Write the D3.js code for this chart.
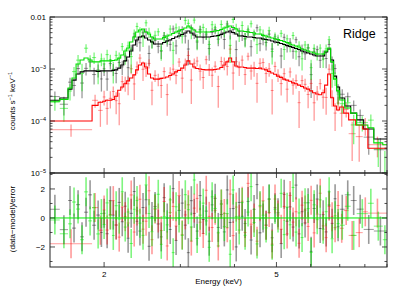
<!DOCTYPE html>
<html>
<head>
<meta charset="utf-8">
<title>Ridge spectrum</title>
<script src="https://cdn.jsdelivr.net/npm/d3@7"></script>
<style>
  body { margin: 0; background: #fff; }
  text { font-family: "Liberation Sans", Arial, sans-serif; fill: #000; }
</style>
</head>
<body>
<svg id="chart" width="399" height="299"></svg>
<script>
// rates are in units of 1e-4 counts s^-1 keV^-1, errors in % of the model
const UNIT = 1e-4;

// bin centres (keV) shared by the three data groups between 2 and 7 keV
const energies = [2.00, 2.03, 2.07, 2.10, 2.13, 2.17, 2.20, 2.24, 2.27, 2.31,
  2.35, 2.38, 2.42, 2.46, 2.50, 2.54, 2.58, 2.62, 2.67, 2.71,
  2.75, 2.80, 2.84, 2.89, 2.93, 2.98, 3.03, 3.08, 3.13, 3.18,
  3.23, 3.28, 3.33, 3.39, 3.44, 3.50, 3.55, 3.61, 3.67, 3.73,
  3.79, 3.85, 3.91, 3.97, 4.04, 4.10, 4.17, 4.23, 4.30, 4.37,
  4.44, 4.51, 4.58, 4.66, 4.73, 4.81, 4.89, 4.96, 5.04, 5.13,
  5.21, 5.29, 5.38, 5.46, 5.55, 5.64, 5.73, 5.82, 5.92, 6.01,
  6.11, 6.21, 6.31, 6.41, 6.51, 6.62, 6.72, 6.83, 6.94];

const blackModel = [9.2, 9.2, 9.2, 9.4, 9.6, 10.4, 11.9, 14.3, 17.0, 22.2,
  28.9, 36.1, 41.2, 43.1, 39.5, 36.1, 33.0, 30.3, 30.3, 30.3,
  32.3, 34.6, 36.1, 38.6, 41.2, 43.1, 46.1, 49.2, 53.8, 49.2,
  45.1, 41.2, 41.2, 41.2, 41.2, 41.2, 42.2, 43.1, 44.1, 46.1,
  49.2, 51.5, 53.8, 50.3, 47.1, 43.1, 43.1, 42.2, 41.2, 41.2,
  40.3, 39.5, 39.5, 37.8, 36.9, 36.1, 34.6, 33.0, 32.3, 30.9,
  29.6, 28.3, 27.1, 25.9, 24.8, 23.7, 22.2, 21.2, 20.3, 19.4,
  18.6, 17.8, 17.8, 17.8, 21.2, 24.2, 14.9, 7.3, 4.5];
const blackRate = [10.1, 6.4, 12.7, 9.9, 8.2, 13.3, 11.0, 17.2, 10.6, 23.9,
  42.6, 34.3, 31.9, 49.6, 51.4, 19.9, 33.8, 35.6, 27.3, 22.0,
  43.6, 34.6, 29.8, 58.9, 27.8, 48.5, 56.5, 43.1, 24.2, 61.5,
  48.5, 33.0, 57.7, 40.2, 45.3, 24.7, 50.6, 57.1, 37.5, 48.4,
  36.9, 73.4, 49.8, 57.8, 23.6, 52.8, 44.2, 38.0, 52.5, 26.8,
  45.3, 62.2, 30.6, 37.8, 32.3, 46.9, 24.2, 38.8, 34.7, 17.8,
  40.7, 26.9, 32.5, 22.0, 36.6, 17.2, 24.4, 19.6, 25.4, 7.8,
  21.4, 23.6, 14.7, 18.7, 15.9, 29.6, 13.4, 10.2, 3.6];
const blackErrPct = [30, 28, 32, 27, 30, 26, 29, 25, 27, 24, 26,
  22, 25, 21, 24, 23, 26, 22, 24, 21, 25,
  23, 22, 26, 21, 24, 22, 25, 23, 21, 24,
  22, 26, 23, 21, 25, 22, 24, 23, 21, 26,
  22, 24, 23, 25, 21, 22, 26, 24, 23, 21,
  25, 22, 24, 26, 23, 22, 25, 21, 24, 23,
  22, 26, 24, 21, 25, 23, 22, 24, 26, 23,
  25, 24, 22, 26, 25, 27, 30, 33];

const greenModel = [14.3, 14.3, 14.3, 14.6, 14.9, 16.3, 18.6, 22.2, 25.3, 33.0,
  41.2, 51.5, 56.2, 58.8, 51.5, 47.1, 41.2, 37.8, 37.8, 37.8,
  40.3, 43.1, 45.1, 48.1, 51.5, 53.8, 57.5, 61.4, 67.1, 61.4,
  56.2, 51.5, 51.5, 51.5, 51.5, 51.5, 52.6, 53.8, 55.0, 57.5,
  61.4, 64.2, 67.1, 62.8, 58.8, 53.8, 53.8, 52.6, 51.5, 50.3,
  49.2, 47.1, 47.1, 44.1, 43.1, 41.2, 39.5, 37.8, 36.9, 35.3,
  33.8, 32.3, 30.3, 28.9, 27.7, 26.5, 24.2, 23.2, 22.2, 21.2,
  20.3, 19.4, 19.4, 19.4, 22.2, 25.3, 13.7, 6.4, 3.8];
const greenRate = [12.5, 18.9, 15.0, 9.5, 18.3, 15.9, 27.0, 18.3, 27.8, 17.3,
  47.4, 65.7, 52.0, 41.2, 77.3, 50.6, 33.0, 44.4, 52.0, 22.7,
  41.3, 38.8, 58.6, 22.8, 61.8, 53.8, 43.1, 86.0, 75.5, 52.2,
  87.1, 34.8, 54.1, 63.1, 48.9, 29.6, 71.0, 61.9, 42.6, 71.9,
  53.7, 69.0, 28.5, 89.5, 60.3, 44.4, 68.6, 38.1, 56.7, 74.2,
  45.5, 29.4, 56.5, 46.3, 36.6, 54.6, 21.7, 42.5, 36.9, 48.5,
  23.7, 38.0, 27.3, 44.1, 21.5, 28.5, 15.7, 29.0, 25.5, 10.6,
  24.9, 18.9, 25.2, 15.5, 24.4, 36.7, 8.2, 6.7, 3.3];
const greenErrPct = [28, 31, 26, 29, 27, 30, 25, 28, 24, 27, 25,
  23, 21, 25, 22, 24, 21, 26, 23, 22, 25,
  21, 24, 22, 26, 23, 21, 25, 22, 24, 21,
  23, 26, 22, 25, 21, 24, 23, 22, 26, 21,
  25, 23, 22, 24, 21, 26, 23, 25, 22, 24,
  21, 23, 26, 22, 25, 24, 21, 23, 22, 26,
  24, 21, 25, 23, 22, 26, 24, 23, 21, 25,
  22, 24, 26, 23, 25, 28, 31, 34];

const redModel = [2.4, 2.5, 2.5, 2.6, 3.0, 3.9, 4.5, 5.2, 5.9, 6.7,
  7.7, 9.6, 11.9, 13.0, 10.9, 8.0, 6.7, 6.4, 6.4, 6.6,
  6.7, 7.0, 7.5, 8.0, 8.8, 9.4, 10.4, 11.9, 14.3, 12.5,
  10.9, 10.2, 10.0, 9.8, 9.6, 9.6, 9.6, 9.8, 10.0, 10.7,
  11.9, 13.7, 16.3, 13.7, 11.4, 10.9, 10.9, 10.7, 10.4, 10.4,
  10.4, 10.2, 10.4, 10.0, 9.6, 9.0, 8.4, 7.9, 7.3, 6.9,
  6.4, 6.1, 5.8, 5.4, 5.2, 4.9, 4.6, 4.3, 4.1, 3.8,
  3.5, 3.3, 3.2, 3.5, 4.9, 8.0, 2.8, 1.94, 1.63];
const redRate = [2.90, 1.75, 2.73, 3.69, 2.46, 2.15, 5.72, 5.36, 5.19, 10.1,
  5.16, 11.0, 16.2, 9.88, 10.2, 12.8, 3.89, 7.55, 6.40, 4.82,
  8.91, 3.22, 8.40, 9.92, 7.48, 13.6, 6.66, 12.6, 18.2, 6.13,
  12.9, 14.2, 9.10, 6.86, 15.1, 9.89, 7.58, 11.3, 4.60, 13.9,
  13.0, 11.2, 24.1, 8.36, 13.8, 10.6, 14.8, 7.81, 17.6, 9.15,
  10.4, 5.30, 12.9, 13.3, 8.16, 10.1, 3.86, 11.2, 7.74, 5.24,
  8.13, 4.09, 8.76, 4.91, 5.98, 2.25, 5.98, 5.07, 3.24, 5.28,
  2.24, 3.60, 5.22, 2.87, 2.84, 9.92, 2.88, 1.42, 2.22];
const redErrPct = [38, 36, 40, 35, 37, 34, 36, 33, 35, 32, 34,
  30, 28, 31, 29, 32, 28, 30, 27, 31, 29,
  28, 32, 30, 27, 29, 31, 28, 30, 32, 27,
  29, 31, 28, 30, 27, 32, 29, 28, 31, 30,
  27, 29, 32, 28, 30, 31, 27, 29, 28, 32,
  30, 31, 28, 29, 33, 30, 32, 29, 31, 34,
  30, 33, 32, 35, 31, 34, 33, 36, 32, 35,
  34, 37, 33, 31, 30, 36, 40, 42];

// wide bins at the ends: [lo keV, hi keV, rate, err %, model]
const blackLow = [[1.50, 1.58, 2.95, 30, 2.5], [1.58, 1.651, 2.10, 30, 2.77],
  [1.651, 1.686, 5.58, 30, 4.1], [1.686, 1.723, 4.82, 30, 6.1],
  [1.723, 1.76, 10.2, 30, 8.0], [1.76, 1.797, 5.37, 30, 8.8],
  [1.797, 1.837, 10.3, 30, 9.2], [1.837, 1.876, 13.6, 30, 9.2],
  [1.876, 1.917, 7.82, 30, 9.2], [1.917, 1.958, 9.54, 30, 9.0],
  [1.958, 1.985, 6.44, 30, 9.2]];
const greenLow = [[1.50, 1.58, 2.30, 30, 2.4], [1.58, 1.651, 1.75, 30, 2.6],
  [1.651, 1.686, 3.78, 30, 4.3], [1.686, 1.723, 8.91, 30, 6.7],
  [1.723, 1.76, 14.8, 30, 12.5], [1.76, 1.797, 8.20, 30, 14.9],
  [1.797, 1.837, 25.1, 30, 16.3], [1.837, 1.876, 14.0, 30, 14.9],
  [1.876, 1.917, 16.6, 30, 13.7], [1.917, 1.958, 9.18, 30, 13.7],
  [1.958, 1.985, 15.6, 30, 14.3]];
const redLow = [[1.50, 1.876, 0.68, 18, 1.0], [1.876, 1.937, 2.50, 35, 2.0],
  [1.937, 1.985, 1.60, 36, 2.3]];

const blackHigh = [[7.00, 7.19, 3.27, 30, 2.77], [7.19, 7.42, 2.93, 32, 1.94],
  [7.42, 7.66, 2.00, 34, 1.42], [7.66, 7.95, 1.28, 36, 1.05],
  [7.95, 8.39, 0.49, 38, 0.70], [8.39, 9.00, 0.28, 42, 0.45]];
const greenHigh = [[7.00, 7.19, 2.15, 30, 2.53], [7.19, 7.42, 2.24, 32, 1.78],
  [7.42, 7.66, 0.84, 34, 1.42], [7.66, 8.13, 0.93, 36, 0.84],
  [8.13, 8.39, 1.04, 40, 0.74], [8.39, 8.80, 0.29, 42, 0.38],
  [8.80, 9.00, 0.098, 48, 0.35]];
const redHigh = [[7.00, 7.15, 1.41, 34, 1.86], [7.15, 7.34, 1.68, 36, 1.42],
  [7.34, 7.62, 0.57, 38, 1.05], [7.62, 7.91, 0.50, 40, 0.84],
  [7.91, 8.13, 0.83, 44, 0.70], [8.13, 9.00, 0.35, 50, 0.30]];

const energyTicks = [2, 3, 4, 5, 6, 7, 8, 9];
const energyLabels = [2, 5];
const resTicks = [-3, -2, -1, 0, 1, 2, 3];
const resLabels = [-2, 0, 2];

// layout
const xL = 50, xR = 387, yT = 17, yM = 173, yB = 267;
const svg = d3.select("#chart");

const x = d3.scaleLog().domain([1.5, 9]).range([xL, xR]);
const y = d3.scaleLog().domain([1e-5, 1e-2]).range([yM, yT]);
const yr = d3.scaleLinear().domain([-3.38, 3.1]).range([yB, yM]);

// bin edges of the shared grid: halfway (in log) between neighbouring centres
function gridEdges(c) {
  const n = c.length;
  const e = [c[0] / Math.sqrt(c[1] / c[0])];
  for (let i = 0; i < n - 1; i++) e.push(Math.sqrt(c[i] * c[i + 1]));
  e.push(c[n - 1] * Math.sqrt(c[n - 1] / c[n - 2]));
  return e;
}
const edges = gridEdges(energies);

function makeBins(low, rate, pct, model, high) {
  const row = r => ({ lo: r[0], hi: r[1], rate: r[2] * UNIT, err: r[4] * r[3] / 100 * UNIT, model: r[4] * UNIT });
  const grid = energies.map((e, i) => ({
    lo: edges[i], hi: edges[i + 1],
    rate: rate[i] * UNIT, err: model[i] * pct[i] / 100 * UNIT, model: model[i] * UNIT
  }));
  return low.map(row).concat(grid, high.map(row));
}

const series = [
  { line: "#000000", bar: "rgba(0,0,0,0.4)", bins: makeBins(blackLow, blackRate, blackErrPct, blackModel, blackHigh) },
  { line: "#ff0000", bar: "rgba(255,0,0,0.4)", bins: makeBins(redLow, redRate, redErrPct, redModel, redHigh) },
  { line: "#00e000", bar: "rgba(0,235,0,0.5)", bins: makeBins(greenLow, greenRate, greenErrPct, greenModel, greenHigh) }
];

// clip regions
const defs = svg.append("defs");
defs.append("clipPath").attr("id", "clipTop").append("rect")
  .attr("x", xL).attr("y", yT).attr("width", xR - xL).attr("height", yM - yT);
defs.append("clipPath").attr("id", "clipRes").append("rect")
  .attr("x", xL).attr("y", yM).attr("width", xR - xL).attr("height", yB - yM);

const gTop = svg.append("g").attr("clip-path", "url(#clipTop)");
const gRes = svg.append("g").attr("clip-path", "url(#clipRes)");

// data crosses
series.forEach(s => {
  const g = gTop.append("g").attr("stroke", s.bar).attr("fill", "none");
  s.bins.forEach(b => {
    const xc = x(Math.sqrt(b.lo * b.hi));
    g.append("line").attr("x1", x(b.lo)).attr("x2", x(b.hi)).attr("y1", y(b.rate)).attr("y2", y(b.rate))
      .attr("stroke-width", 1);
    g.append("line").attr("x1", xc).attr("x2", xc)
      .attr("y1", y(Math.max(b.rate - b.err, 1e-6))).attr("y2", y(b.rate + b.err))
      .attr("stroke-width", 1.3);
  });
});

// model histograms on top
series.forEach(s => {
  let p = "";
  s.bins.forEach((b, i) => {
    const yy = y(b.model);
    p += (i === 0 ? "M" : "L") + x(b.lo) + "," + yy + "L" + x(b.hi) + "," + yy;
  });
  gTop.append("path").attr("d", p).attr("fill", "none")
    .attr("stroke", s.line).attr("stroke-width", 1.1);
});

// residuals
series.forEach(s => {
  const g = gRes.append("g").attr("stroke", s.bar).attr("fill", "none");
  s.bins.forEach(b => {
    const r = (b.rate - b.model) / b.err;
    const xc = x(Math.sqrt(b.lo * b.hi));
    g.append("line").attr("x1", x(b.lo)).attr("x2", x(b.hi)).attr("y1", yr(r)).attr("y2", yr(r))
      .attr("stroke-width", 1);
    g.append("line").attr("x1", xc).attr("x2", xc).attr("y1", yr(r - 1)).attr("y2", yr(r + 1))
      .attr("stroke-width", 1.6);
  });
});
gRes.append("line").attr("x1", xL).attr("x2", xR).attr("y1", yr(0)).attr("y2", yr(0))
  .attr("stroke", "#00ee00").attr("stroke-width", 1);

// frames
const axisG = svg.append("g").attr("stroke", "#222").attr("fill", "none");
axisG.append("rect").attr("x", xL).attr("y", yT).attr("width", xR - xL).attr("height", yM - yT).attr("stroke-width", 1);
axisG.append("rect").attr("x", xL).attr("y", yM).attr("width", xR - xL).attr("height", yB - yM).attr("stroke-width", 1);

// energy ticks on every horizontal edge
const tickG = svg.append("g").attr("stroke", "#222").attr("stroke-width", 0.8);
[[yT, 1], [yM, -1], [yM, 1], [yB, -1]].forEach(([yy, dir]) => {
  energyTicks.forEach(e => {
    const len = energyLabels.includes(e) ? 5 : 3;
    tickG.append("line").attr("x1", x(e)).attr("x2", x(e)).attr("y1", yy).attr("y2", yy + dir * len);
  });
});

// rate ticks (log) on both sides
y.ticks().forEach(v => {
  const major = Math.abs(Math.log10(v) - Math.round(Math.log10(v))) < 1e-6;
  const len = major ? 5 : 2.5;
  tickG.append("line").attr("x1", xL).attr("x2", xL + len).attr("y1", y(v)).attr("y2", y(v));
  tickG.append("line").attr("x1", xR).attr("x2", xR - len).attr("y1", y(v)).attr("y2", y(v));
});
resTicks.forEach(v => {
  const len = resLabels.includes(v) ? 5 : 2.5;
  tickG.append("line").attr("x1", xL).attr("x2", xL + len).attr("y1", yr(v)).attr("y2", yr(v));
  tickG.append("line").attr("x1", xR).attr("x2", xR - len).attr("y1", yr(v)).attr("y2", yr(v));
});

// tick labels
const fs = 8;
[1e-2, 1e-3, 1e-4, 1e-5].forEach(v => {
  const t = svg.append("text").attr("x", xL - 4).attr("y", y(v) + 3)
    .attr("text-anchor", "end").attr("font-size", fs);
  if (v === 1e-2) { t.text("0.01"); return; }
  t.append("tspan").text("10");
  t.append("tspan").attr("font-size", 5.5).attr("dy", -3).text("\u2212" + Math.round(-Math.log10(v)));
});
resLabels.forEach(v => {
  svg.append("text").attr("x", xL - 5).attr("y", yr(v) + 3)
    .attr("text-anchor", "end").attr("font-size", fs)
    .text(v < 0 ? "\u2212" + (-v) : String(v));
});
energyLabels.forEach(e => {
  svg.append("text").attr("x", x(e)).attr("y", yB + 10)
    .attr("text-anchor", "middle").attr("font-size", fs).text(e);
});

// axis titles
svg.append("text").attr("x", (xL + xR) / 2).attr("y", 284)
  .attr("text-anchor", "middle").attr("font-size", fs).text("Energy (keV)");

const yt = svg.append("text").attr("transform", "translate(15,101) rotate(-90)")
  .attr("text-anchor", "middle").attr("font-size", fs);
yt.append("tspan").text("counts s");
yt.append("tspan").attr("font-size", 5.5).attr("dy", -3).text("\u22121");
yt.append("tspan").attr("dy", 3).text(" keV");
yt.append("tspan").attr("font-size", 5.5).attr("dy", -3).text("\u22121");

svg.append("text").attr("transform", "translate(15,219) rotate(-90)")
  .attr("text-anchor", "middle").attr("font-size", fs).text("(data\u2212model)/error");

svg.append("text").attr("x", 343).attr("y", 38).attr("font-size", 12.5).text("Ridge");
</script>
</body>
</html>
